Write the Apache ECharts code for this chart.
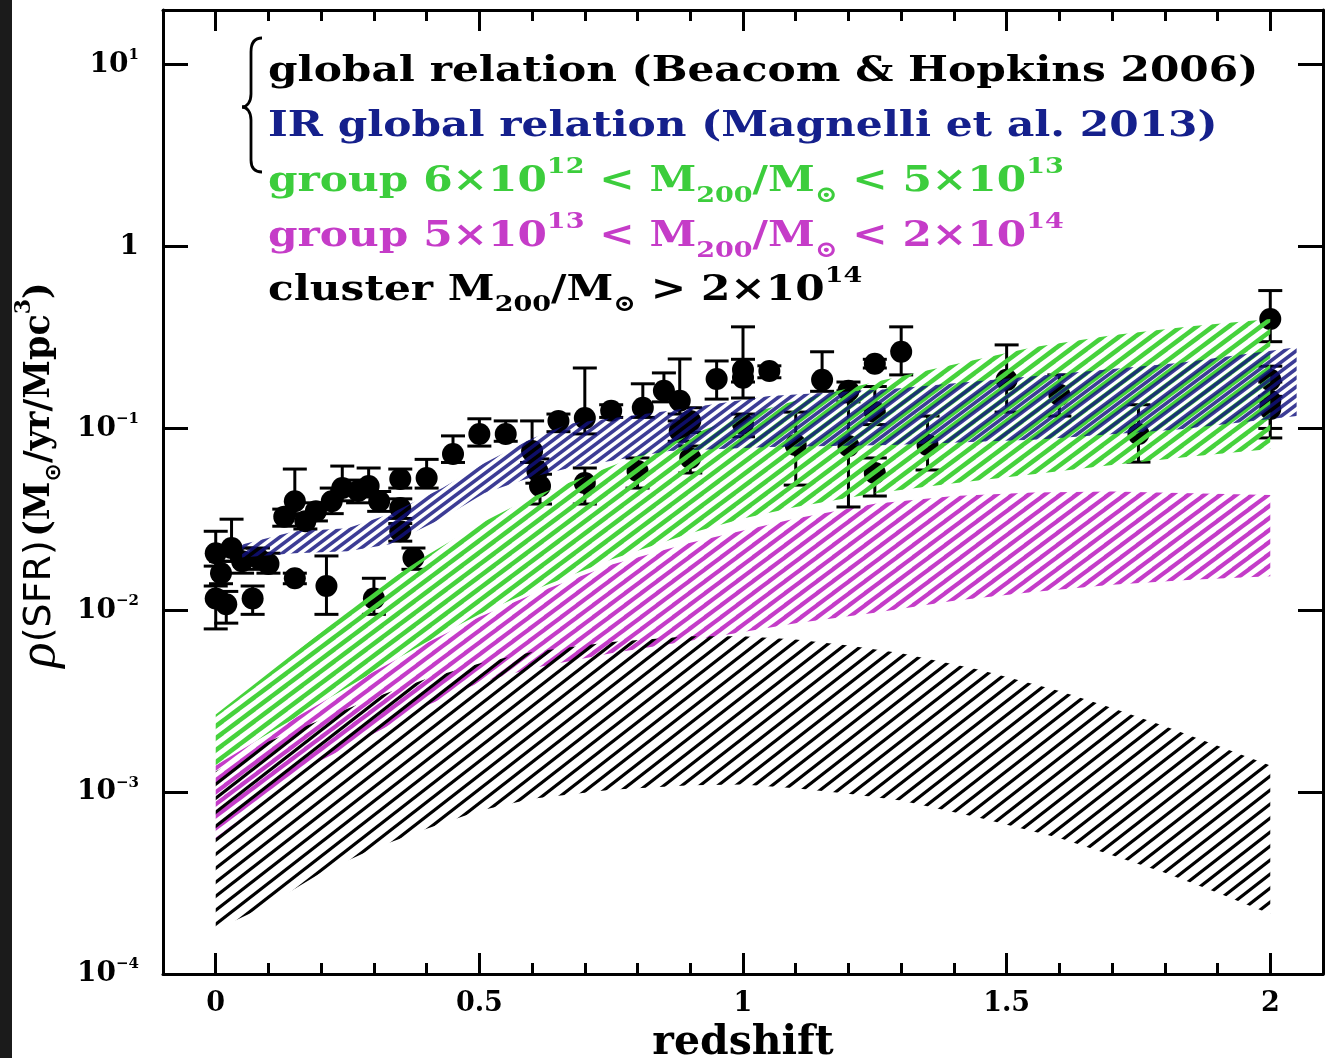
<!DOCTYPE html>
<html><head><meta charset="utf-8">
<script src="https://cdn.jsdelivr.net/npm/echarts@6/dist/echarts.min.js"></script>
<style>html,body{margin:0;padding:0;background:#fff}#c{width:1333px;height:1058px}</style>
</head><body><div id="c"></div><script>
// ---------------- data ----------------
// model bands (redshift grid, lower and upper SFR density)
const zBand = [0,0.1,0.2,0.3,0.4,0.5,0.6,0.75,0.9,1.0,1.1,1.25,1.4,1.55,1.7,1.85,2.0];
const groupLowMassLow  = [0.0014,0.0021,0.0031,0.0046,0.0067,0.0095,0.0128,0.0190,0.0265,0.0320,0.0370,0.0440,0.0500,0.0560,0.0630,0.0700,0.0770];
const groupLowMassHigh = [0.00267,0.0045,0.0076,0.0129,0.020,0.0298,0.042,0.062,0.092,0.118,0.142,0.180,0.225,0.280,0.325,0.365,0.400];
const groupHighMassLow  = [0.00055,0.00095,0.0015,0.0021,0.0030,0.0040,0.0048,0.0058,0.0068,0.0076,0.0085,0.0097,0.0113,0.0126,0.0138,0.0147,0.0154];
const groupHighMassHigh = [0.0014,0.0021,0.0031,0.0046,0.0066,0.0092,0.0122,0.0178,0.0235,0.0275,0.0320,0.0385,0.0425,0.0445,0.0450,0.0440,0.0430];
const zCluster = [0,0.1,0.2,0.3,0.4,0.5,0.6,0.75,0.9,1.0,1.1,1.2,1.3,1.45,1.6,1.7,1.8,1.9,2.0];
const clusterLow  = [0.000175,0.00024,0.00036,0.00049,0.00063,0.00079,0.00092,0.00103,0.00109,0.00110,0.00105,0.00098,0.00090,0.00072,0.00056,0.00045,0.00036,0.00028,0.000214];
const clusterHigh = [0.0013,0.0019,0.0025,0.0033,0.0042,0.0051,0.0059,0.0067,0.0072,0.0072,0.0069,0.0064,0.0058,0.0047,0.0036,0.0029,0.0023,0.0018,0.0014];
const zIR = [0.05,0.15,0.25,0.33,0.43,0.51,0.6,0.67,0.86,1.05,1.28,1.56,1.83,2.05];
const irLow  = [0.0195,0.0206,0.0211,0.0231,0.0321,0.0441,0.054,0.0606,0.0752,0.079,0.081,0.087,0.099,0.117];
const irHigh = [0.023,0.0272,0.0283,0.0338,0.047,0.0646,0.088,0.106,0.125,0.151,0.165,0.195,0.23,0.28];

// global relation data points (Beacom & Hopkins 2006 compilation)
const pointZ = [0.00,0.01,0.02,0.00,0.03,0.05,0.07,0.08,0.10,0.15,0.21,0.30,0.13,0.15,0.17,0.19,0.22,0.24,0.27,0.29,0.31,0.35,0.35,0.35,0.375,0.40,0.45,0.50,0.55,0.60,0.61,0.615,0.65,0.70,0.70,0.75,0.81,0.80,0.85,0.88,0.90,0.88,0.90,0.95,1.00,1.00,1.00,1.05,1.10,1.15,1.20,1.20,1.25,1.25,1.25,1.30,1.35,1.50,1.60,1.75,2.00,2.00,2.00,2.00];
const pointV = [0.0206,0.0160,0.0108,0.0116,0.0220,0.0186,0.0116,0.0194,0.0180,0.0150,0.0136,0.0116,0.0327,0.0398,0.0309,0.0351,0.0398,0.0470,0.0453,0.0482,0.0398,0.0527,0.0365,0.0272,0.0194,0.0534,0.0724,0.0933,0.0933,0.0752,0.0583,0.0482,0.1100,0.1140,0.0501,0.1250,0.1300,0.0583,0.1610,0.1420,0.1100,0.0968,0.0688,0.1870,0.1900,0.2100,0.1060,0.2070,0.0811,0.1850,0.1610,0.0800,0.2270,0.1230,0.0569,0.2640,0.0811,0.1850,0.1530,0.0933,0.4000,0.1850,0.1420,0.1280];
const pointLo = [0.0175,0.0140,0.0085,0.0079,0.0186,0.0160,0.0095,0.0168,0.0160,0.0140,0.0095,0.0095,0.0290,0.0330,0.0280,0.0310,0.0340,0.0400,0.0390,0.0420,0.0350,0.0470,0.0320,0.0240,0.0168,0.0470,0.0650,0.0800,0.0850,0.0650,0.0500,0.0384,0.0960,0.0933,0.0384,0.1150,0.1150,0.0470,0.1400,0.1200,0.0950,0.0850,0.0569,0.1450,0.1470,0.1800,0.0900,0.1900,0.0488,0.1600,0.1400,0.0370,0.2150,0.1050,0.0425,0.1970,0.0591,0.1230,0.1170,0.0653,0.3000,0.1500,0.1000,0.0887];
const pointHi = [0.0272,0.0186,0.0127,0.0136,0.0317,0.0220,0.0136,0.0220,0.0206,0.0160,0.0199,0.0150,0.0360,0.0598,0.0340,0.0390,0.0470,0.0621,0.0520,0.0606,0.0450,0.0598,0.0410,0.0300,0.0220,0.0676,0.0910,0.1130,0.1100,0.1100,0.0680,0.0560,0.1200,0.2150,0.0606,0.1350,0.1760,0.0688,0.2020,0.2410,0.1300,0.1100,0.0800,0.2350,0.3620,0.2400,0.1200,0.2210,0.1230,0.2640,0.1800,0.1610,0.2400,0.1700,0.0688,0.3620,0.1170,0.2880,0.1970,0.1350,0.5730,0.2200,0.1800,0.1500];

const yTickExponents = [-4,-3,-2,-1,0,1];

// ---------------- styling helpers ----------------
const SERIF = '"DejaVu Serif","Liberation Serif",serif';
function hatch(color, W, H, lw, phase) {
  const c = document.createElement('canvas'); c.width = W; c.height = H;
  const g = c.getContext('2d'); g.strokeStyle = color; g.lineWidth = lw; g.lineCap = 'butt';
  for (let k = -3; k <= 3; k++) {
    const ox = k * W + (phase || 0);
    g.beginPath(); g.moveTo(ox - W, 2 * H); g.lineTo(ox + 2 * W, -H); g.stroke();
  }
  return { image: c, repeat: 'repeat' };
}
function band(name, zs, lo, hi, fill, z, opacity) {
  return {
    type: 'custom', name, z, clip: true, silent: true,
    data: zs.map((x, i) => [x, lo[i], hi[i]]),
    encode: { x: 0, y: [1, 2] },
    renderItem(params, api) {
      if (params.dataIndex !== 0) return null;
      const pts = [];
      for (let i = 0; i < zs.length; i++) pts.push(api.coord([zs[i], hi[i]]));
      for (let i = zs.length - 1; i >= 0; i--) pts.push(api.coord([zs[i], lo[i]]));
      return { type: 'polygon', shape: { points: pts }, style: { fill, opacity: opacity == null ? 1 : opacity, stroke: null } };
    }
  };
}

const chart = echarts.init(document.getElementById('c'), null, { renderer: 'canvas' });

const tickStyle = { color: '#000', width: 3 };
const xCommon = {
  type: 'value', min: -0.1, max: 2.1, splitLine: { show: false },
  axisLine: { show: true, onZero: false, lineStyle: tickStyle },
  axisTick: { show: true, inside: true, length: 21, lineStyle: tickStyle },
  minorTick: { show: true, splitNumber: 5, length: 11, lineStyle: tickStyle },
  minorSplitLine: { show: false }
};
const yCommon = {
  type: 'log', logBase: 10, min: 1e-4, max: 20, splitLine: { show: false },
  axisLine: { show: true, onZero: false, lineStyle: tickStyle },
  axisTick: { show: true, inside: true, length: 25, lineStyle: tickStyle },
  minorTick: { show: false }
};

function legendLine(y, color, text) {
  return {
    type: 'text', x: 268, y: y, z: 100, scaleX: 1.175,
    style: {
      text, fill: color, align: 'left', verticalAlign: 'middle',
      rich: {
        t: { fontFamily: SERIF, fontWeight: 'bold', fontSize: 36, lineHeight: 52, fill: color, verticalAlign: 'middle' },
        p: { fontFamily: SERIF, fontWeight: 'bold', fontSize: 23, lineHeight: 32, fill: color, verticalAlign: 'top' },
        b: { fontFamily: SERIF, fontWeight: 'bold', fontSize: 23, lineHeight: 30, fill: color, verticalAlign: 'bottom' }
      }
    }
  };
}
const braceStyle = { stroke: '#000', lineWidth: 2.8, fill: null };
function bez(x1, y1, c1x, c1y, c2x, c2y, x2, y2) {
  return { type: 'bezierCurve', z: 100, shape: { x1, y1, cpx1: c1x, cpy1: c1y, cpx2: c2x, cpy2: c2y, x2, y2 }, style: braceStyle };
}
function seg(x1, y1, x2, y2) {
  return { type: 'line', z: 100, shape: { x1, y1, x2, y2 }, style: braceStyle };
}

const option = {
  animation: false,
  backgroundColor: '#fff',
  grid: { left: 163, right: 10, top: 10, bottom: 84, containLabel: false, outerBoundsMode: 'none' },
  xAxis: [
    Object.assign({}, xCommon, {
      position: 'bottom',
      axisLabel: { show: true, showMinLabel: false, showMaxLabel: false, margin: 16, color: '#000', fontFamily: SERIF, fontWeight: 'bold', fontSize: 27 },
      name: 'redshift', nameLocation: 'middle', nameGap: 49,
      nameTextStyle: { color: '#000', fontFamily: SERIF, fontWeight: 'bold', fontSize: 41 }
    }),
    Object.assign({}, xCommon, { position: 'top', axisLabel: { show: false } })
  ],
  yAxis: [
    Object.assign({}, yCommon, {
      position: 'left',
      axisLabel: {
        show: true, showMaxLabel: false, margin: 24,
        formatter: v => {
          const e = Math.round(Math.log10(v));
          if (yTickExponents.indexOf(e) < 0) return '';
          if (e === 0) return '{b|1}';
          return '{b|10}{s|' + (e < 0 ? '\u2212' : '') + Math.abs(e) + '}';
        },
        rich: {
          b: { fontFamily: SERIF, fontWeight: 'bold', fontSize: 28, lineHeight: 34, color: '#000' },
          s: { fontFamily: SERIF, fontWeight: 'bold', fontSize: 15, lineHeight: 18, verticalAlign: 'top', color: '#000' }
        }
      },
      name: '{r|\u03c1}{s|(SFR)} {m|(M}{ms|\u2299}{m|/yr/Mpc}{mp|3}{m|)}',
      nameLocation: 'middle', nameRotate: 90, nameGap: 92,
      nameTextStyle: {
        padding: [0, 0, 0, 34],
        rich: {
          r: { fontFamily: '"Liberation Serif","DejaVu Serif",serif', fontStyle: 'italic', fontSize: 53, lineHeight: 52, color: '#000' },
          s: { fontFamily: '"DejaVu Sans",sans-serif', fontSize: 38, lineHeight: 52, color: '#000' },
          m: { fontFamily: SERIF, fontWeight: 'bold', fontSize: 35, lineHeight: 52, color: '#000' },
          ms: { fontFamily: '"DejaVu Sans",sans-serif', fontWeight: 'bold', fontSize: 22, lineHeight: 31, verticalAlign: 'bottom', color: '#000' },
          mp: { fontFamily: SERIF, fontWeight: 'bold', fontSize: 22, lineHeight: 31, verticalAlign: 'top', color: '#000' }
        }
      }
    }),
    Object.assign({}, yCommon, { position: 'right', axisLabel: { show: false } })
  ],
  graphic: [
    { type: 'rect', shape: { x: 0, y: 0, width: 12, height: 1058 }, style: { fill: '#1b1b1b' }, z: 100 },
    bez(262, 38, 255, 38, 251, 42, 251, 52),
    seg(251, 52, 251, 94),
    bez(251, 94, 251, 102, 247, 107, 242, 107),
    bez(242, 107, 247, 107, 251, 112, 251, 120),
    seg(251, 120, 251, 160),
    bez(251, 160, 251, 168, 255, 172, 262, 172),
    legendLine(72, '#000000', '{t|global relation (Beacom & Hopkins 2006)}'),
    legendLine(127, '#15208c', '{t|IR global relation (Magnelli et al. 2013)}'),
    legendLine(182, '#3ccd3c', '{t|group 6\u00d710}{p|12}{t| < M}{b|200}{t|/M}{b|\u2299}{t| < 5\u00d710}{p|13}'),
    legendLine(237, '#c53cc8', '{t|group 5\u00d710}{p|13}{t| < M}{b|200}{t|/M}{b|\u2299}{t| < 2\u00d710}{p|14}'),
    legendLine(291, '#000000', '{t|cluster M}{b|200}{t|/M}{b|\u2299}{t| > 2\u00d710}{p|14}')
  ],
  series: [
    band('group 5e13-2e14', zBand, groupHighMassLow, groupHighMassHigh, hatch('#c43cc8', 16, 12, 4.2, 8), 2),
    band('cluster', zCluster, clusterLow, clusterHigh, hatch('#000000', 18, 14, 3.2, 0), 3),
    {
      type: 'custom', name: 'error bars', z: 4, clip: true, silent: true,
      data: pointZ.map((x, i) => [x, pointV[i], pointLo[i], pointHi[i]]),
      encode: { x: 0, y: [1, 2, 3] },
      renderItem(params, api) {
        const x = api.value(0);
        const a = api.coord([x, api.value(2)]), b = api.coord([x, api.value(3)]);
        const cw = 12, st = { stroke: '#000', lineWidth: 3 };
        return { type: 'group', children: [
          { type: 'line', shape: { x1: a[0], y1: a[1], x2: b[0], y2: b[1] }, style: st },
          { type: 'line', shape: { x1: a[0] - cw, y1: a[1], x2: a[0] + cw, y2: a[1] }, style: st },
          { type: 'line', shape: { x1: b[0] - cw, y1: b[1], x2: b[0] + cw, y2: b[1] }, style: st }
        ] };
      }
    },
    {
      type: 'scatter', name: 'global relation', z: 4, symbol: 'circle', symbolSize: 22, silent: true,
      itemStyle: { color: '#000', opacity: 1 },
      data: pointZ.map((x, i) => [x, pointV[i]])
    },
    band('group 6e12-5e13', zBand, groupLowMassLow, groupLowMassHigh, hatch('#46d23c', 16, 12, 4.6, 0), 5),
    band('IR global relation', zIR, irLow, irHigh, hatch('#12127e', 12, 9, 3.6, 0), 6, 0.82)
  ]
};
chart.setOption(option);
</script></body></html>
